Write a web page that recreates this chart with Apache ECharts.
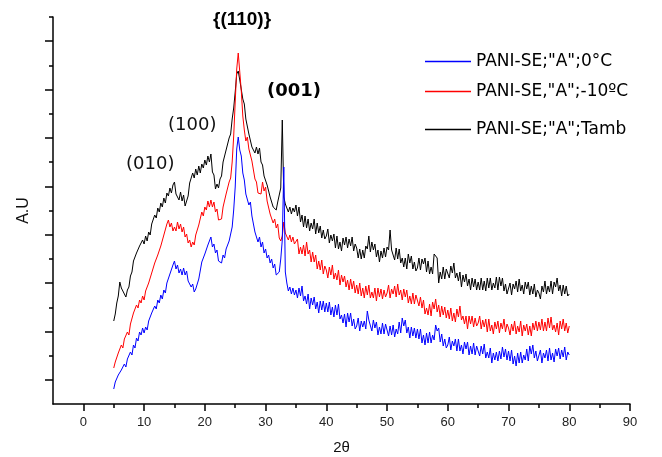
<!DOCTYPE html>
<html><head><meta charset="utf-8">
<script src="https://cdn.jsdelivr.net/npm/echarts@6/dist/echarts.min.js"></script>
<style>html,body{margin:0;padding:0;background:#fff}#c{width:662px;height:457px}</style>
</head><body><div id="c"></div>
<script>
const seriesNames = ['PANI-SE;"A";0°C', 'PANI-SE,"A";-10ºC', 'PANI-SE;"A";Tamb'];
const seriesColors = ['#0000ff', '#ff0000', '#000000'];
// 2θ sampling grid: 5° to 80° every 0.25°
const twoThetaStart = 5, twoThetaStep = 0.25;

const blue0C = [
15,22,21,29,27,34,32,40,37,45,43,52,49,59,56,66,63,72,69,76,
71,77,74,83,81,91,89,98,95,104,101,109,105,114,111,121,119,130,129,139,
143,135,139,131,135,129,136,129,133,123,125,117,120,112,115,114,125,127,142,140,
150,148,159,157,167,157,160,151,154,143,145,141,149,146,155,153,163,164,177,194,
217,255,267,254,248,231,224,210,210,199,202,188,187,172,171,162,167,157,162,151,
155,146,149,141,145,136,140,129,131,132,145,164,237,132,121,113,117,110,116,109,
114,106,116,108,118,103,108,100,110,95,106,99,107,95,102,91,103,94,103,92,
101,92,102,89,97,87,99,89,100,85,89,81,90,77,91,82,91,78,85,75,
78,86,73,83,77,83,75,93,84,86,73,84,76,82,69,77,70,81,70,80,
78,68,78,69,79,67,75,70,82,71,86,78,84,71,77,66,77,68,76,66,
75,65,75,61,69,59,71,61,72,61,69,64,79,73,76,62,70,58,65,56,
59,67,54,63,58,65,53,65,53,59,50,62,55,62,49,58,50,61,49,58,
56,48,58,50,60,46,52,46,56,41,51,44,52,43,53,45,57,47,55,44,
53,43,54,40,48,38,51,41,52,41,49,44,55,43,58,50,59,46,53,43,
45,54,41,51,46,54,43,56,44,51,42,55,48,56,45,54,47,57,44,52,
49];

const redMinus10C = [
36,42,41,51,52,59,56,65,63,72,69,80,79,91,92,99,96,104,101,108,
104,113,111,121,119,131,131,141,139,149,148,158,156,169,170,180,184,177,181,173,
177,173,182,175,180,172,177,167,170,161,164,157,162,159,169,168,179,180,192,188,
197,194,203,197,204,197,202,192,195,184,185,185,197,198,210,210,222,226,242,268,
302,335,351,332,313,288,274,263,267,255,257,243,242,225,222,211,212,210,222,213,
217,203,202,190,190,181,185,176,180,166,163,168,182,171,172,164,169,162,167,160,
159,165,150,157,150,159,148,162,150,154,142,152,142,149,135,143,134,144,130,138,
134,126,137,129,139,125,131,124,134,119,129,122,128,117,124,114,125,115,123,111,
119,110,121,108,116,106,118,109,119,106,112,106,116,103,116,107,115,105,114,107,
111,119,106,115,110,118,107,120,109,114,104,115,107,114,101,108,100,111,100,109,
108,98,107,96,104,90,96,89,100,88,102,95,105,92,99,87,98,89,97,86,
94,85,96,83,91,82,95,87,98,84,88,80,88,75,88,80,88,77,86,78,
81,88,75,84,77,85,72,85,73,79,70,82,75,83,71,81,75,85,72,80,
76,69,80,73,83,70,78,72,83,68,79,73,80,69,78,68,81,74,83,73,
82,74,85,73,82,73,86,76,87,74,79,72,81,69,83,75,85,73,81,71,
78];

const blackTamb = [
83,90,101,108,122,116,117,110,107,114,117,128,132,143,144,151,149,158,156,164,
160,168,163,172,169,180,178,189,186,196,192,201,197,206,201,211,208,216,211,219,
222,210,211,204,212,203,209,198,203,208,221,220,231,226,235,229,238,231,240,236,
244,239,248,242,250,232,229,215,220,216,225,228,242,241,254,255,266,270,285,296,
312,330,333,324,322,305,300,285,284,270,270,257,259,251,257,250,256,242,239,228,
229,219,221,207,206,197,199,194,202,204,216,284,207,200,199,192,197,190,196,192,
199,188,197,182,189,177,188,176,185,173,181,175,185,170,181,171,178,166,174,165,
168,175,161,169,163,170,156,168,155,162,153,166,159,167,156,165,158,167,153,160,
156,146,155,145,154,146,158,155,168,152,162,154,160,147,154,142,153,146,156,147,
157,154,174,154,156,144,156,145,155,141,146,137,146,135,150,141,148,135,142,133,
136,146,134,145,140,146,132,143,130,137,130,150,149,146,121,132,125,137,125,135,
133,126,138,131,141,126,131,123,132,117,129,122,130,118,125,114,126,117,125,114,
122,114,126,114,123,113,126,116,126,114,121,116,127,114,127,118,126,113,120,110,
111,121,109,120,115,123,112,125,113,119,110,122,115,122,109,118,110,120,107,114,
111,105,118,112,123,110,118,112,123,110,122,117,126,113,119,108,119,110,118,108,
110];

const xMin = -5, xMax = 90;
const xTickLabels = [0, 10, 20, 30, 40, 50, 60, 70, 80, 90];
const xMinorTicks = [5, 15, 25, 35, 45, 55, 65, 75, 85];
const yMax = 387; // arbitrary units
const yMajorTicks = [24.19, 72.56, 120.94, 169.31, 217.69, 266.06, 314.44, 362.81];
const yMinorTicks = [48.38, 96.75, 145.13, 193.5, 241.88, 290.25, 338.63, 387];
const peakLabels = ['{(110)}', '(001)', '(100)', '(010)'];

function pairs(arr) { return arr.map((v, i) => [twoThetaStart + i * twoThetaStep, v]); }

const chart = echarts.init(document.getElementById('c'), null, {renderer: 'canvas'});
const axisLine = {show: true, onZero: false, lineStyle: {color: '#000', width: 1.5}};
const FONT = 'Liberation Sans, Arial, sans-serif';

const option = {
  animation: false,
  backgroundColor: '#fff',
  grid: {left: 53, right: 32, top: 17, bottom: 53, outerBoundsMode: 'none', containLabel: false},
  xAxis: [{
    type: 'value', min: xMin, max: xMax, interval: 5,
    name: '2θ', nameLocation: 'middle', nameGap: 36,
    nameTextStyle: {fontFamily: FONT, fontSize: 15, color: '#111'},
    axisLine: axisLine,
    axisTick: {show: true, length: 7, customValues: xTickLabels, lineStyle: {color: '#000', width: 1.5}},
    axisLabel: {show: true, customValues: xTickLabels, margin: 12, fontFamily: FONT, fontSize: 13, color: '#222'},
    splitLine: {show: false}
  }, {
    type: 'value', min: xMin, max: xMax, interval: 5, position: 'bottom',
    axisLine: {show: false, onZero: false},
    axisTick: {show: true, length: 4, customValues: xMinorTicks, lineStyle: {color: '#000', width: 1.5}},
    axisLabel: {show: false}, splitLine: {show: false}
  }],
  yAxis: [{
    type: 'value', min: 0, max: yMax,
    name: 'A.U', nameLocation: 'middle', nameGap: 21,
    nameTextStyle: {fontFamily: FONT, fontSize: 16, color: '#111'},
    axisLine: axisLine,
    axisTick: {show: true, length: 8, customValues: yMajorTicks, lineStyle: {color: '#000', width: 1.5}},
    axisLabel: {show: false}, splitLine: {show: false}
  }, {
    type: 'value', min: 0, max: yMax, position: 'left',
    axisLine: {show: false, onZero: false},
    axisTick: {show: true, length: 4, customValues: yMinorTicks, lineStyle: {color: '#000', width: 1.5}},
    axisLabel: {show: false}, splitLine: {show: false}
  }],
  legend: seriesNames.map((n, i) => ({
    data: [{name: n, icon: 'rect'}], left: 420, top: [48, 78, 116][i], orient: 'vertical',
    itemWidth: 46, itemHeight: 1.3,
    textStyle: {fontFamily: 'DejaVu Sans, sans-serif', fontSize: 17, color: '#000'}
  })),
  graphic: [
    {type: 'text', left: 213, top: 10, style: {text: peakLabels[0], font: 'bold 19px Liberation Sans', fill: '#000'}},
    {type: 'text', left: 267, top: 82, style: {text: peakLabels[1], font: 'bold 18px DejaVu Sans', fill: '#000'}},
    {type: 'text', left: 168, top: 116, style: {text: peakLabels[2], font: '18px DejaVu Sans', fill: '#111'}},
    {type: 'text', left: 126, top: 155, style: {text: peakLabels[3], font: '18px DejaVu Sans', fill: '#111'}}
  ],
  series: [
    {name: seriesNames[2], type: 'line', data: pairs(blackTamb), symbol: 'none', showSymbol: false,
     lineStyle: {width: 1, color: seriesColors[2]}, itemStyle: {color: seriesColors[2]}, z: 2},
    {name: seriesNames[1], type: 'line', data: pairs(redMinus10C), symbol: 'none', showSymbol: false,
     lineStyle: {width: 1, color: seriesColors[1]}, itemStyle: {color: seriesColors[1]}, z: 3},
    {name: seriesNames[0], type: 'line', data: pairs(blue0C), symbol: 'none', showSymbol: false,
     lineStyle: {width: 1, color: seriesColors[0]}, itemStyle: {color: seriesColors[0]}, z: 4}
  ]
};
chart.setOption(option);
</script>
</body></html>
